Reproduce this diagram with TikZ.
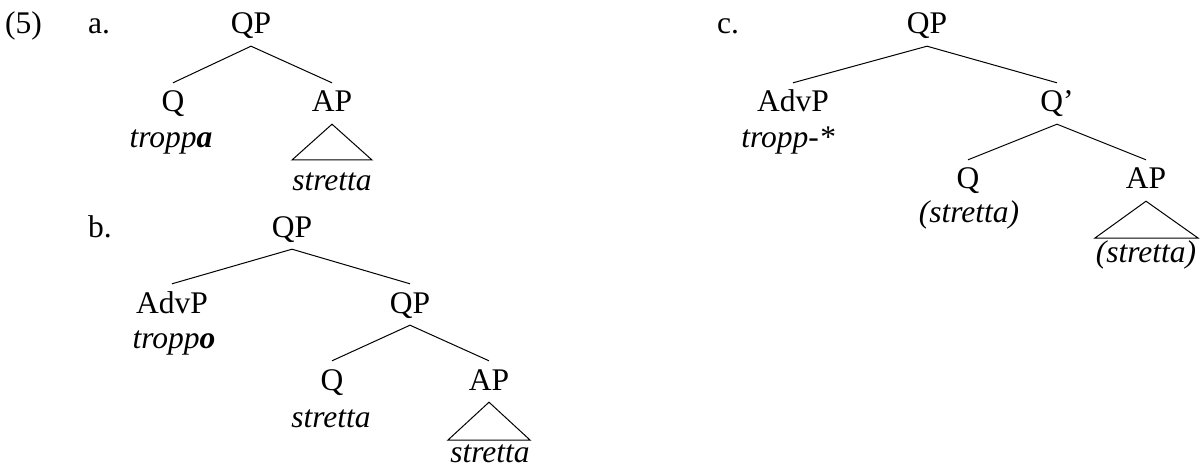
\documentclass[tikz,border=0pt]{standalone}
\usepackage{fontspec}
\setmainfont{Liberation Serif}
\begin{document}
\begin{tikzpicture}[x=1pt,y=-1pt,
  every node/.style={font=\fontsize{31.5}{38}\selectfont, inner sep=0pt},
  cat/.style={anchor=base, text height=21pt, text depth=4pt, inner ysep=8pt, inner xsep=2pt},
  word/.style={anchor=base, font=\fontsize{31.5}{38}\selectfont\itshape},
  lbl/.style={anchor=base west},
  branch/.style={line width=1pt},
]
\useasboundingbox (0,0) rectangle (1202,468);

% example number and sub-labels
\node[lbl] (num) at (5,34) {(5)};
\node[lbl] (la) at (88,34) {a.};
\node[lbl] (lb) at (88,237) {b.};
\node[lbl] (lc) at (717,34) {c.};

% ---- (a)
\node[cat] (aQP) at (251,34) {QP};
\node[cat] (aQ)  at (173,112) {Q};
\node[cat] (aAP) at (332,112) {AP};
\node[word] (aw1) at (171,147) {tropp\textbf{a}};
\node[word] (aw2) at (332,190) {stretta};
\coordinate (at1) at (292,160);
\coordinate (at2) at (372,160);
\draw[branch] (aQ.north) -- (aQP.south) -- (aAP.north);
\draw[branch] (aAP.south) -- (at1) -- (at2) -- cycle;

% ---- (b)
\node[cat] (bQP)  at (292,237) {QP};
\node[cat] (bAdv) at (172,313) {AdvP};
\node[cat] (bQP2) at (410,313) {QP};
\node[word] (bw1) at (174,348) {tropp\textbf{o}};
\node[cat] (bQ)   at (332,390) {Q};
\node[cat] (bAP)  at (489,390) {AP};
\node[word] (bw2) at (331,427) {stretta};
\node[word] (bw3) at (490,462) {stretta};
\coordinate (bt1) at (448,440);
\coordinate (bt2) at (530,440);
\draw[branch] (bAdv.north) -- (bQP.south) -- (bQP2.north);
\draw[branch] (bQ.north) -- (bQP2.south) -- (bAP.north);
\draw[branch] (bAP.south) -- (bt1) -- (bt2) -- cycle;
% struck-through copy
\draw[line width=1.2pt] ([yshift=-8pt]bw3.base west) -- ([yshift=-8pt]bw3.base east);

% ---- (c)
\node[cat] (cQP)  at (927,34) {QP};
\node[cat] (cAdv) at (793,112) {AdvP};
\node[cat] (cQb)  at (1057,112) {Q'};
\node[word] (cw1) at (788,147) {tropp-*};
\node[cat] (cQ)   at (968,189) {Q};
\node[cat] (cAP)  at (1146,189) {AP};
\node[word] (cw2) at (969,222) {(stretta)};
\node[word] (cw3) at (1146,262) {(stretta)};
\coordinate (ct1) at (1095,238);
\coordinate (ct2) at (1198,238);
\draw[branch] (cAdv.north) -- (cQP.south) -- (cQb.north);
\draw[branch] (cQ.north) -- (cQb.south) -- (cAP.north);
\draw[branch] (cAP.south) -- (ct1) -- (ct2) -- cycle;
\end{tikzpicture}
\end{document}
